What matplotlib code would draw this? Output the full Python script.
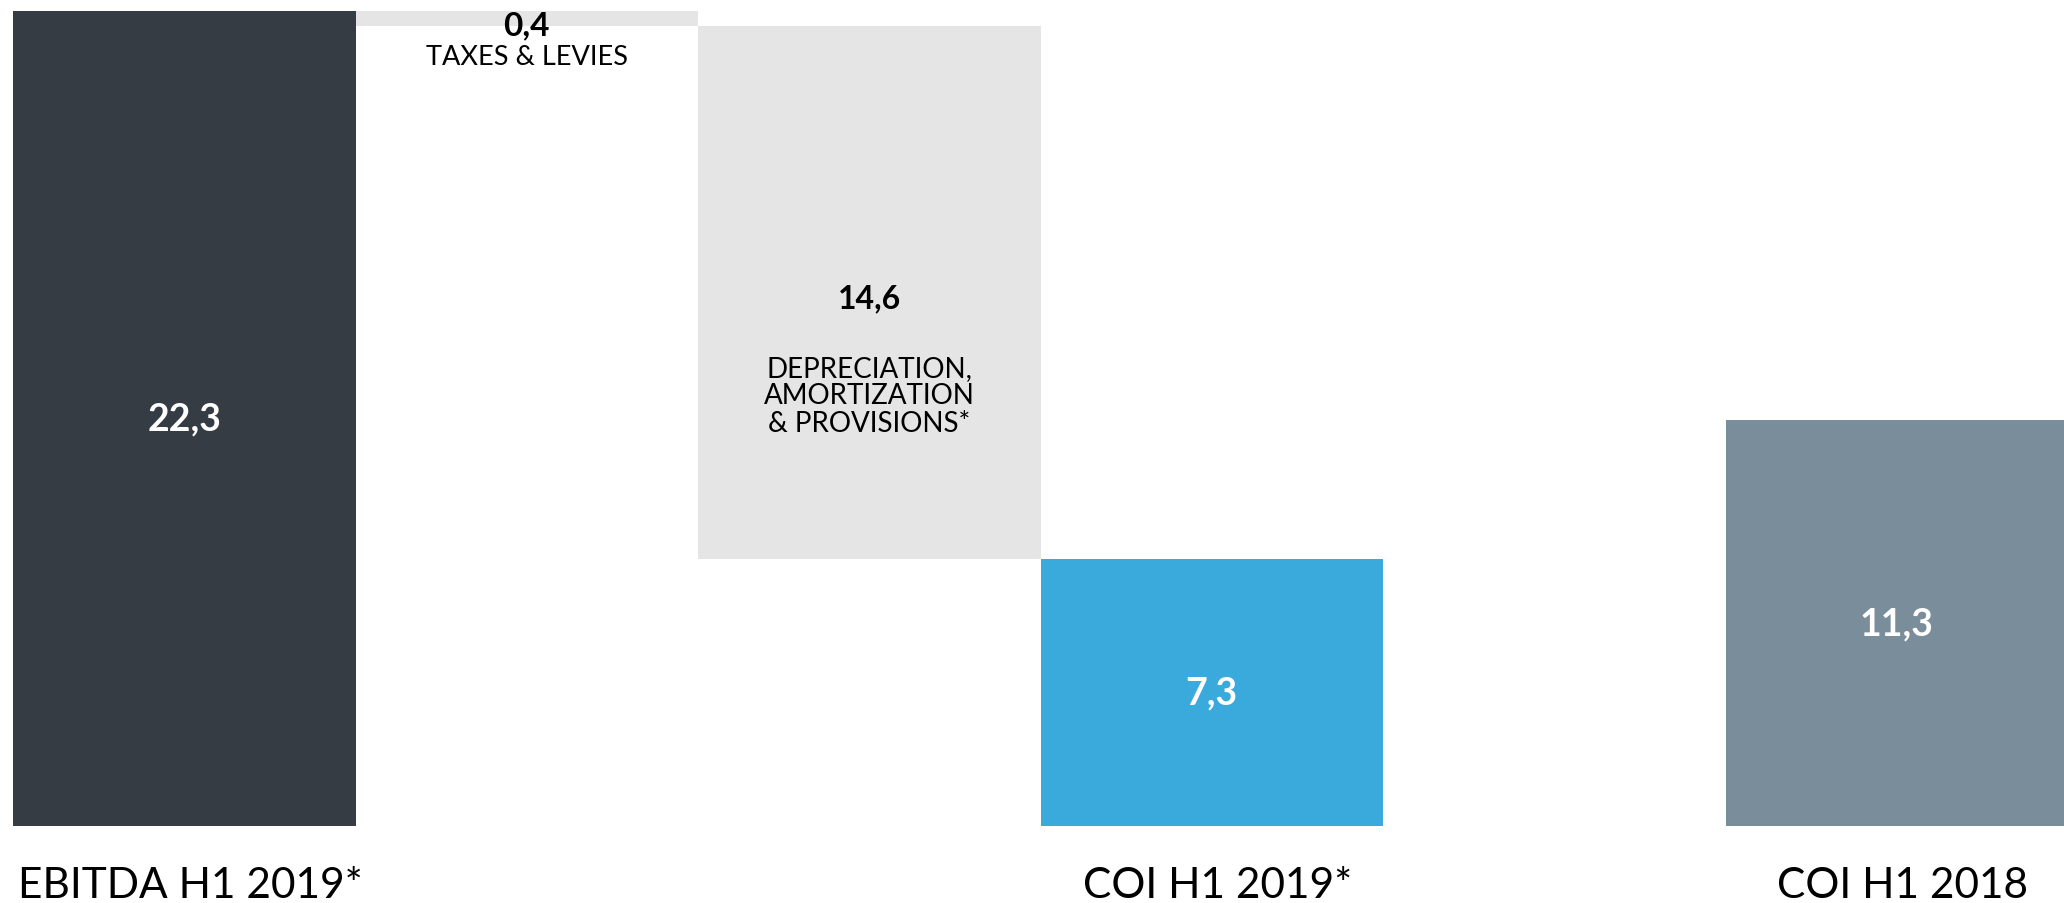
import matplotlib
matplotlib.use("Agg")
import matplotlib.pyplot as plt
import matplotlib.transforms as mtransforms

# ---- data ----
slot_names = ["EBITDA H1 2019*", "TAXES & LEVIES",
              "DEPRECIATION,\nAMORTIZATION\n& PROVISIONS*",
              "COI H1 2019*", "", "COI H1 2018"]
kinds = ["total", "delta", "delta", "total", "gap", "total"]
values = [22.3, -0.4, -14.6, 7.3, 0.0, 11.1]
value_labels = ["22,3", "0,4", "14,6", "7,3", "", "11,3"]
axis_labels = ["EBITDA H1 2019*", "", "", "COI H1 2019*", "", "COI H1 2018"]
colors = ["#363c43", "#e5e5e5", "#e5e5e5", "#3aa9db", "#ffffff", "#7a8d9a"]

FONT = ["Lato", "DejaVu Sans"]
plt.rcParams["font.family"] = FONT

fig = plt.figure(figsize=(20.64, 9.04), dpi=100)
ax = fig.add_axes([13 / 2064, 77 / 904, 2055 / 2064, 815 / 904])

x = list(range(len(values)))
bottoms, heights = [], []
running = 0.0
for k, v in zip(kinds, values):
    if k == "total":
        bottoms.append(0.0)
        heights.append(v)
        running = v
    elif k == "delta":
        bottoms.append(running + v)
        heights.append(-v)
        running = running + v
    else:
        bottoms.append(0.0)
        heights.append(0.0)

ax.bar(x, heights, bottom=bottoms, width=1.0, color=colors, linewidth=0)

# value labels inside total bars
for i, (k, lab) in enumerate(zip(kinds, value_labels)):
    if lab and k == "total":
        ax.text(i, bottoms[i] + heights[i] / 2, lab, ha="center", va="center",
                color="white", fontsize=27, fontweight="bold")

# taxes (small delta): label over the top
top1 = bottoms[1] + heights[1]
ax.annotate(value_labels[1], xy=(1, top1), xytext=(0, -10),
            textcoords="offset points", ha="center", va="center",
            color="black", fontsize=24, fontweight="bold")
ax.annotate(slot_names[1], xy=(1, top1), xytext=(0, -33),
            textcoords="offset points", ha="center", va="center",
            color="black", fontsize=19.5, fontweight="normal")

# D&A
top2 = bottoms[2] + heights[2]
ax.annotate(value_labels[2], xy=(2, top2), xytext=(0, -196),
            textcoords="offset points", ha="center", va="center",
            color="black", fontsize=23, fontweight="bold")
ax.annotate(slot_names[2], xy=(2, top2), xytext=(0, -266),
            textcoords="offset points", ha="center", va="center",
            color="black", fontsize=20, fontweight="normal", linespacing=1.07,
            multialignment="center")

ax.set_xlim(-0.5, 5.5)
ax.set_ylim(0, 22.3)
ax.set_xticks(x)
ax.set_xticklabels(axis_labels, fontsize=30.5, fontweight="normal", color="black")
ax.tick_params(axis="x", length=0, pad=29)
shift = mtransforms.ScaledTranslation(6 / 100, 0, fig.dpi_scale_trans)
for t in ax.get_xticklabels():
    t.set_transform(t.get_transform() + shift)
ax.set_yticks([])
for s in ax.spines.values():
    s.set_visible(False)

fig.savefig("out.png", dpi=100, facecolor="white")
